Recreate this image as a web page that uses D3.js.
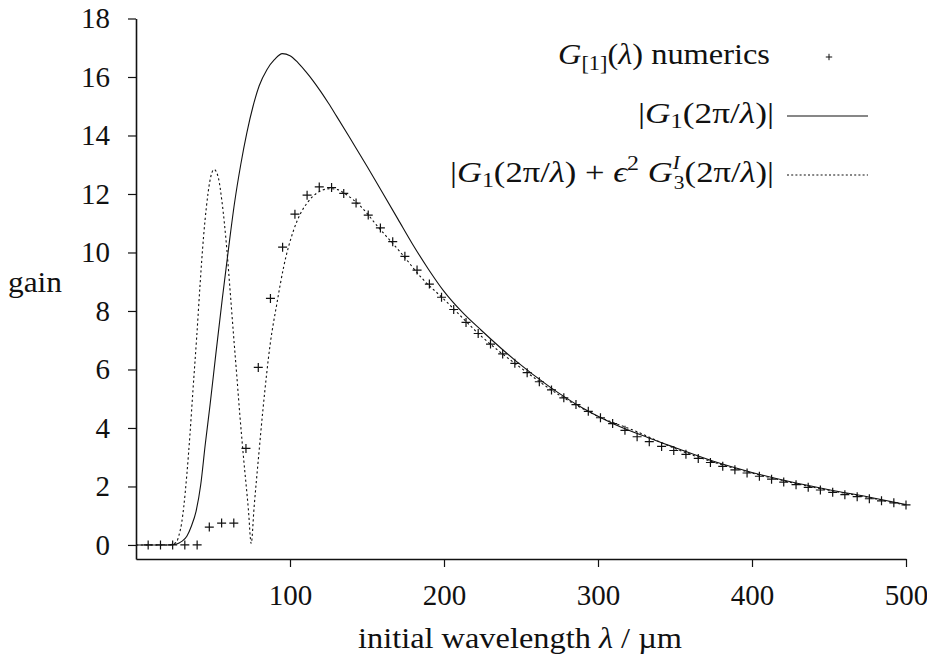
<!DOCTYPE html>
<html>
<head>
<meta charset="utf-8">
<script src="https://cdn.jsdelivr.net/npm/d3@7"></script>
<style>
  html, body { margin: 0; padding: 0; background: #fff; }
  svg { display: block; }
  svg text { font-family: "Liberation Serif", "Times New Roman", Tinos, "DejaVu Serif", serif !important; fill: #111; }
</style>
</head>
<body>
<svg id="chart" width="927" height="658"></svg>
<script>
// ---- data ----
const numericsLambda = [7.9, 15.9, 23.8, 31.7, 39.7, 47.6, 55.6, 63.5, 71.4, 79.4, 87.3, 95.2, 103.2, 111.1, 119.0, 127.0, 134.9, 142.9, 150.8, 158.7, 166.7, 174.6, 182.5, 190.5, 198.4, 206.3, 214.3, 222.2, 230.2, 238.1, 246.0, 254.0, 261.9, 269.8, 277.8, 285.7, 293.7, 301.6, 309.5, 317.5, 325.4, 333.3, 341.3, 349.2, 357.1, 365.1, 373.0, 381.0, 388.9, 396.8, 404.8, 412.7, 420.6, 428.6, 436.5, 444.4, 452.4, 460.3, 468.3, 476.2, 484.1, 492.1, 500.0];
const numericsGain = [0, 0, 0, 0, 0, 0.61, 0.75, 0.75, 3.3, 6.07, 8.43, 10.18, 11.31, 11.96, 12.24, 12.22, 12.02, 11.69, 11.28, 10.84, 10.37, 9.87, 9.40, 8.92, 8.47, 8.05, 7.61, 7.23, 6.87, 6.53, 6.21, 5.89, 5.58, 5.30, 5.03, 4.80, 4.57, 4.35, 4.15, 3.92, 3.70, 3.53, 3.37, 3.23, 3.10, 2.96, 2.82, 2.69, 2.57, 2.46, 2.35, 2.25, 2.15, 2.06, 1.97, 1.88, 1.80, 1.72, 1.65, 1.58, 1.51, 1.44, 1.37];

const g1Lambda = [0, 10, 20, 25, 28, 30, 33, 36, 39, 42, 45, 48, 52, 56, 60, 64, 68, 72, 76, 80, 85, 90, 95, 100, 105, 110, 115, 120, 125, 130, 140, 150, 160, 170, 180, 190, 200, 212, 224, 246, 268, 290, 311, 333, 350, 375, 400, 425, 450, 475, 500];
const g1Gain = [0, 0, 0, 0.02, 0.07, 0.13, 0.3, 0.65, 1.15, 2.05, 3.45, 4.75, 6.6, 8.4, 10.1, 11.7, 13.0, 14.1, 15.0, 15.7, 16.25, 16.6, 16.8, 16.73, 16.5, 16.2, 15.87, 15.5, 15.1, 14.68, 13.82, 12.95, 12.05, 11.15, 10.25, 9.42, 8.67, 7.95, 7.35, 6.32, 5.43, 4.68, 4.12, 3.66, 3.33, 2.86, 2.48, 2.16, 1.89, 1.65, 1.38];

const g13Lambda = [0, 10, 20, 24, 26.4, 28, 29.6, 31, 33, 35, 37, 39.4, 41.6, 43.8, 45.7, 48, 50.7, 53.5, 55.8, 59, 61.1, 63.3, 65.5, 67.5, 69.8, 73, 74.8, 76.7, 79.6, 82.4, 87.2, 91.5, 95.9, 102.4, 107, 111.5, 118, 126, 131, 135.4, 146.2, 157.1, 172.3, 186, 200, 225, 250, 275, 300, 325, 350, 375, 400, 425, 450, 475, 500];
const g13Gain = [0, 0, 0, 0.03, 0.11, 0.35, 0.74, 1.3, 2.4, 3.75, 5.3, 7.1, 8.9, 10.5, 11.55, 12.45, 12.84, 12.55, 11.75, 10.1, 8.7, 7.2, 5.75, 4.4, 3.0, 1.2, 0.05, 1.3, 3.02, 4.61, 6.89, 8.26, 9.51, 10.77, 11.35, 11.72, 12.05, 12.18, 12.15, 12.02, 11.56, 10.88, 9.97, 9.1, 8.4, 7.1, 6.05, 5.12, 4.40, 3.88, 3.30, 2.83, 2.46, 2.14, 1.87, 1.63, 1.36];

const xTicks = [100, 200, 300, 400, 500];
const yTicks = [0, 2, 4, 6, 8, 10, 12, 14, 16, 18];

// ---- layout ----
const svg = d3.select("#chart");
const FS = 29, SUB = 20;
const x = d3.scaleLinear().domain([0, 500]).range([136, 906]);
const y = d3.scaleLinear().domain([-0.48, 18]).range([559, 18.5]);
const ink = "#111";

// axes
const yAxis = d3.axisLeft(y).tickValues(yTicks).tickSize(8).tickSizeOuter(0).tickPadding(18).tickFormat(d3.format("d"));
const xAxis = d3.axisBottom(x).tickValues(xTicks).tickSize(8).tickSizeOuter(0).tickPadding(17).tickFormat(d3.format("d"));

const gy = svg.append("g").attr("transform", "translate(136,0)").call(yAxis);
const gx = svg.append("g").attr("transform", "translate(0,559)").call(xAxis);
[gy, gx].forEach(g => {
  g.attr("font-family", null).attr("font-size", FS);
  g.select(".domain").attr("stroke", ink).attr("stroke-width", 1.6);
  g.selectAll(".tick line").attr("stroke", ink).attr("stroke-width", 1.2);
  g.selectAll(".tick text").attr("font-size", FS).attr("fill", ink);
});

// axis titles
svg.append("text").attr("x", 8).attr("y", 292).attr("font-size", FS)
  .attr("textLength", 54).attr("lengthAdjust", "spacingAndGlyphs").text("gain");
const xt = svg.append("text").attr("x", 358).attr("y", 648).attr("font-size", FS)
  .attr("textLength", 324).attr("lengthAdjust", "spacingAndGlyphs");
xt.append("tspan").text("initial wavelength ");
xt.append("tspan").attr("font-style", "italic").text("λ");
xt.append("tspan").text(" / µm");

// curves
const line = d3.line().x(d => x(d[0])).y(d => y(d[1])).curve(d3.curveMonotoneX);
const g1Data = g1Lambda.map((l, i) => [l, g1Gain[i]]);
const g13Data = g13Lambda.map((l, i) => [l, g13Gain[i]]);

svg.append("path").datum(g13Data).attr("d", line)
  .attr("fill", "none").attr("stroke", ink).attr("stroke-width", 1.1).attr("stroke-dasharray", "2.2,2.6");
svg.append("path").datum(g1Data).attr("d", line)
  .attr("fill", "none").attr("stroke", ink).attr("stroke-width", 1.1);

// numerics points (+)
const plus = (cx, cy, h) => `M${cx - h},${cy}H${cx + h}M${cx},${cy - h}V${cy + h}`;
svg.append("g").selectAll("path").data(numericsLambda.map((l, i) => [l, numericsGain[i]]))
  .join("path")
  .attr("d", d => plus(x(d[0]), y(d[1]), 4.5))
  .attr("stroke", ink).attr("stroke-width", 1.2).attr("fill", "none");

// legend
const r1 = svg.append("text").attr("x", 558).attr("y", 64).attr("font-size", FS)
  .attr("textLength", 212).attr("lengthAdjust", "spacingAndGlyphs");
r1.append("tspan").attr("font-style", "italic").text("G");
r1.append("tspan").attr("font-size", SUB).attr("dy", 6).text("[1]");
r1.append("tspan").attr("dy", -6).text("(");
r1.append("tspan").attr("font-style", "italic").text("λ");
r1.append("tspan").text(") numerics");
svg.append("path").attr("d", plus(829, 57, 3.2)).attr("stroke", ink).attr("stroke-width", 1).attr("fill", "none");

const r2 = svg.append("text").attr("x", 638).attr("y", 123).attr("font-size", FS)
  .attr("textLength", 136).attr("lengthAdjust", "spacingAndGlyphs");
r2.append("tspan").text("|");
r2.append("tspan").attr("font-style", "italic").text("G");
r2.append("tspan").attr("font-size", SUB).attr("dy", 5).text("1");
r2.append("tspan").attr("dy", -5).text("(2π/");
r2.append("tspan").attr("font-style", "italic").text("λ");
r2.append("tspan").text(")|");
svg.append("line").attr("x1", 787).attr("x2", 868).attr("y1", 116).attr("y2", 116)
  .attr("stroke", ink).attr("stroke-width", 1.2);

const r3 = svg.append("text").attr("x", 450).attr("y", 182).attr("font-size", FS)
  .attr("textLength", 324).attr("lengthAdjust", "spacingAndGlyphs");
r3.append("tspan").text("|");
r3.append("tspan").attr("font-style", "italic").text("G");
r3.append("tspan").attr("font-size", SUB).attr("dy", 5).text("1");
r3.append("tspan").attr("dy", -5).text("(2π/");
r3.append("tspan").attr("font-style", "italic").text("λ");
r3.append("tspan").text(") + ");
r3.append("tspan").attr("font-style", "italic").text("ϵ");
r3.append("tspan").attr("font-size", SUB).attr("dy", -12).text("2");
r3.append("tspan").attr("dy", 12).text(" ");
r3.append("tspan").attr("font-style", "italic").text("G");
r3.append("tspan").attr("font-size", 18).attr("font-style", "italic").attr("dy", -13).text("I");
r3.append("tspan").attr("font-size", 18).attr("dx", -5).attr("dy", 20).text("3");
r3.append("tspan").attr("dy", -7).text("(2π/");
r3.append("tspan").attr("font-style", "italic").text("λ");
r3.append("tspan").text(")|");
svg.append("line").attr("x1", 787).attr("x2", 868).attr("y1", 175).attr("y2", 175)
  .attr("stroke", ink).attr("stroke-width", 1.1).attr("stroke-dasharray", "2,2.2");
</script>
</body>
</html>
